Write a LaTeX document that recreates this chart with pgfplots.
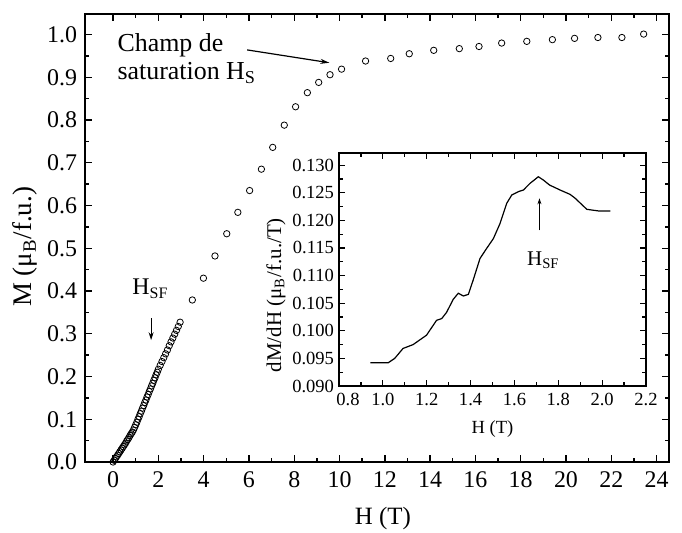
\documentclass[border=0pt]{standalone}
\usepackage{fontspec}
\setmainfont{Liberation Serif}
\usepackage{pgfplots}
\usepackage{pgfplotstable}
\pgfplotsset{compat=1.18}
\usetikzlibrary{arrows.meta}

\pgfplotstableread{
H M
0.00 0.000
0.05 0.004
0.10 0.008
0.15 0.012
0.20 0.016
0.25 0.020
0.30 0.024
0.35 0.028
0.40 0.032
0.45 0.036
0.50 0.040
0.55 0.044
0.60 0.049
0.65 0.053
0.70 0.057
0.75 0.062
0.80 0.066
0.85 0.070
0.90 0.075
0.95 0.081
1.00 0.087
1.05 0.093
1.10 0.100
1.15 0.106
1.20 0.113
1.25 0.119
1.30 0.126
1.35 0.132
1.40 0.139
1.45 0.145
1.50 0.152
1.55 0.158
1.60 0.165
1.65 0.171
1.70 0.178
1.75 0.184
1.80 0.191
1.85 0.197
1.90 0.204
1.95 0.210
2.00 0.217
2.08 0.226
2.16 0.235
2.24 0.244
2.32 0.253
2.40 0.262
2.48 0.272
2.56 0.281
2.64 0.290
2.72 0.299
2.80 0.308
2.88 0.317
2.96 0.327
3.50 0.379
3.99 0.430
4.50 0.482
5.02 0.534
5.51 0.584
6.03 0.635
6.55 0.685
7.05 0.736
7.56 0.788
8.06 0.831
8.58 0.864
9.08 0.888
9.58 0.906
10.09 0.919
11.15 0.938
12.26 0.944
13.08 0.955
14.16 0.963
15.29 0.967
16.16 0.972
17.16 0.980
18.27 0.984
19.40 0.988
20.38 0.991
21.41 0.993
22.47 0.993
23.43 1.001
}\magdata

\pgfplotstableread{
H D
0.943 0.0942
1.024 0.0942
1.054 0.0950
1.092 0.0968
1.138 0.0975
1.199 0.0992
1.245 0.1019
1.268 0.1022
1.290 0.1033
1.321 0.1057
1.344 0.1068
1.367 0.1063
1.390 0.1066
1.412 0.1092
1.443 0.1131
1.473 0.1149
1.504 0.1167
1.534 0.1194
1.565 0.1231
1.588 0.1246
1.618 0.1252
1.641 0.1255
1.671 0.1267
1.709 0.1279
1.732 0.1273
1.760 0.1264
1.808 0.1255
1.854 0.1247
1.877 0.1240
1.930 0.1220
1.984 0.1217
2.037 0.1217
}\derivdata

\begin{document}
\begin{tikzpicture}
\useasboundingbox (-42.5bp,-35.5bp) rectangle (298.5bp,231bp);
\begin{axis}[
  at={(0,0)}, anchor=south west, scale only axis,
  width=292bp, height=224bp,
  xmin=-1.24, xmax=24.55, ymin=0, ymax=1.048,
  xtick={0,2,4,6,8,10,12,14,16,18,20,22,24},
  ytick={0,0.1,0.2,0.3,0.4,0.5,0.6,0.7,0.8,0.9,1.0},
  minor x tick num=1, minor y tick num=1,
  tick align=inside, major tick length=3.5bp, minor tick length=2bp,
  axis line style={line width=1bp},
  every tick/.style={line width=0.7bp, black},
  /pgf/number format/assume math mode=true,
  tick label style={font=\fontsize{12}{14}\selectfont},
  xticklabel style={yshift=-1.5bp},
  yticklabel style={xshift=-0.5bp, /pgf/number format/.cd, fixed, fixed zerofill, precision=1},
  xlabel={H (T)}, ylabel={M (μ\textsubscript{B}/f.u.)},
  xlabel style={font=\fontsize{12.5}{14}\selectfont, at={(axis description cs:0.51,-0.127)}, anchor=center},
  ylabel style={font=\fontsize{13.5}{15}\selectfont, at={(axis description cs:-0.1027,0.48)}, anchor=center},
  clip=false,
]
\addplot[only marks, mark=o, mark size=1.6bp, mark options={line width=0.4bp, black}] table[x=H, y=M] {\magdata};
\node[font=\fontsize{12}{14}\selectfont] at (axis cs:1.65,0.405) {H\textsubscript{SF}};
\draw[-{Stealth[length=4bp,width=2.5bp]}, line width=0.6bp] (axis cs:1.68,0.336) -- (axis cs:1.68,0.285);
\node[font=\fontsize{13}{14}\selectfont, align=left, anchor=west, inner sep=0pt] at (axis cs:0.18,0.943) {Champ de\\saturation H\textsubscript{S}};
\draw[-{Stealth[length=4.5bp,width=2.5bp]}, line width=0.6bp] (axis cs:5.92,0.964) -- (axis cs:9.55,0.934);
\end{axis}
\begin{axis}[
  at={(127bp,38bp)}, anchor=south west, scale only axis,
  width=153.5bp, height=116.5bp,
  xmin=0.8, xmax=2.2, ymin=0.09, ymax=0.1322,
  xtick={0.8,1.0,1.2,1.4,1.6,1.8,2.0,2.2},
  xticklabels={{\hspace{9bp}0.8},1.0,1.2,1.4,1.6,1.8,2.0,2.2},
  ytick={0.090,0.095,0.100,0.105,0.110,0.115,0.120,0.125,0.130},
  minor x tick num=1, minor y tick num=1,
  tick align=inside, major tick length=3bp, minor tick length=1.8bp,
  axis line style={line width=0.8bp},
  every tick/.style={line width=0.6bp, black},
  /pgf/number format/assume math mode=true,
  tick label style={font=\fontsize{9.3}{11}\selectfont},
  yticklabel style={xshift=1bp, /pgf/number format/.cd, fixed, fixed zerofill, precision=3},
  xlabel={H (T)}, ylabel={dM/dH (μ\textsubscript{B}/f.u./T)},
  xlabel style={font=\fontsize{9.3}{11}\selectfont, at={(axis description cs:0.5,-0.185)}, anchor=center},
  ylabel style={font=\fontsize{10.5}{12}\selectfont, at={(axis description cs:-0.205,0.39)}, anchor=center},
  clip=false,
]
\addplot[black, line width=0.6bp] table[x=H, y=D] {\derivdata};
\draw[-{Stealth[length=3bp,width=2bp]}, line width=0.5bp] (axis cs:1.714,0.1182) -- (axis cs:1.714,0.1240);
\node[font=\fontsize{10.5}{12}\selectfont] at (axis cs:1.732,0.1128) {H\textsubscript{SF}};
\end{axis}
\end{tikzpicture}
\end{document}
